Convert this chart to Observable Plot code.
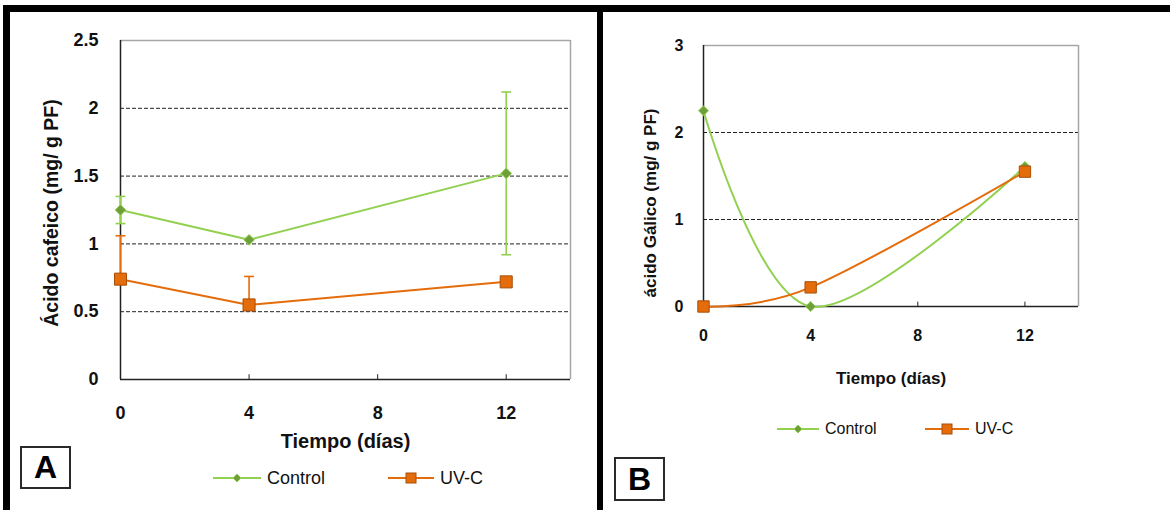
<!DOCTYPE html>
<html>
<head>
<meta charset="utf-8">
<script src="https://cdn.jsdelivr.net/npm/d3@7"></script>
<script src="https://cdn.jsdelivr.net/npm/@observablehq/plot@0.6"></script>
<style>
  html, body { margin: 0; padding: 0; background: #fff; }
  #page { position: relative; width: 1170px; height: 510px; overflow: hidden; background: #fff;
          font-family: "Liberation Sans", Arial, sans-serif; }
  .bar { position: absolute; background: #000; }
  .box { position: absolute; border: 2px solid #2a2a2a; box-sizing: border-box; display: flex;
         align-items: center; justify-content: center; font-weight: bold; font-size: 32px; color: #000; }
  .leg { position: absolute; display: flex; align-items: center; white-space: nowrap; color: #111; }
  .leg svg { display: block; }
</style>
</head>
<body>
<div id="page"></div>
<script>
// ---------- data ----------
const dias = [0, 4, 12];
const ticksDias = [0, 4, 8, 12];
const seriesNames = ["Control", "UV-C"];

// Panel A: Ácido cafeico (mg/ g PF)
const cafeicoControl = [1.25, 1.03, 1.52];
const cafeicoControlErr = [0.10, 0, 0.60];
const cafeicoUVC = [0.74, 0.55, 0.72];
const cafeicoUVCErr = [0.32, 0.21, 0];
const ticksCafeico = [0, 0.5, 1, 1.5, 2, 2.5];

// Panel B: ácido Gálico (mg/ g PF)
const galicoControl = [2.25, 0.0, 1.61];
const galicoUVC = [0.0, 0.22, 1.55];
const ticksGalico = [0, 1, 2, 3];

const panelLabels = ["A", "B"];
const xTitle = "Tiempo (días)";
const yTitleA = "Ácido cafeico (mg/ g PF)";
const yTitleB = "ácido Gálico (mg/ g PF)";

// ---------- styling ----------
const GREEN = "#92D050";
const GREEN_MK = "#6f9f3a";
const ORANGE = "#E46C0A";
const ORANGE_MK = "#A94F08";
const FONT = "'Liberation Sans', Arial, sans-serif";

const capSymbol = {
  draw(context, size) {
    const w = Math.sqrt(size) / 2;
    context.moveTo(-w, 0);
    context.lineTo(w, 0);
  }
};

function rows(vals, errs) {
  return dias.map((d, i) => ({dia: d, v: vals[i], e: errs ? errs[i] : 0}));
}

const page = document.getElementById("page");

// ---------- Panel A ----------
const cafC = rows(cafeicoControl, cafeicoControlErr);
const cafU = rows(cafeicoUVC, cafeicoUVCErr);
const cafCErr = cafC.filter(d => d.e > 0);
const cafUErr = cafU.filter(d => d.e > 0);

const chartA = Plot.plot({
  width: 597, height: 510,
  marginLeft: 120, marginRight: 27, marginTop: 40, marginBottom: 131,
  style: {fontFamily: FONT, fontWeight: "bold", fontSize: "18px", color: "#111", background: "transparent", overflow: "visible"},
  x: {domain: [0, 14]},
  y: {domain: [0, 2.5]},
  marks: [
    Plot.gridY(ticksCafeico.filter(t => t > 0 && t < 2.5), {stroke: "#222", strokeOpacity: 1, strokeDasharray: "4,2"}),
    Plot.ruleY([2.5], {stroke: "#a6a6a6", strokeWidth: 1.5}),
    Plot.ruleX([14], {stroke: "#a6a6a6", strokeWidth: 1.5}),
    Plot.ruleX([0], {stroke: "#222", strokeWidth: 1.5}),
    Plot.ruleY([0], {stroke: "#222", strokeWidth: 1.5}),
    Plot.ruleX(ticksDias.filter(t => t > 0), {y1: 0, y2: 0.035, stroke: "#222"}),
    Plot.axisY({ticks: ticksCafeico, tickSize: 0, tickPadding: 22, label: null, tickFormat: d => String(d), fontSize: 18}),
    Plot.axisX({ticks: ticksDias, tickSize: 0, tickPadding: 27, label: null, tickFormat: d => String(d), fontSize: 18}),
    Plot.text([yTitleA], {text: d => d, frameAnchor: "left", textAnchor: "middle", dx: -69, dy: 3, rotate: -90, fontSize: 19.5, fontWeight: "bold"}),
    Plot.text([xTitle], {text: d => d, frameAnchor: "bottom", dy: 68, fontSize: 20, fontWeight: "bold"}),
    // error bars
    Plot.ruleX(cafCErr, {x: "dia", y1: d => d.v - d.e, y2: d => d.v + d.e, stroke: GREEN, strokeWidth: 1.6}),
    Plot.dot(cafCErr, {x: "dia", y: d => d.v + d.e, symbol: capSymbol, r: 5.6, stroke: GREEN, strokeWidth: 1.6}),
    Plot.dot(cafCErr, {x: "dia", y: d => d.v - d.e, symbol: capSymbol, r: 5.6, stroke: GREEN, strokeWidth: 1.6}),
    Plot.ruleX(cafUErr, {x: "dia", y1: "v", y2: d => d.v + d.e, stroke: ORANGE, strokeWidth: 1.6}),
    Plot.dot(cafUErr, {x: "dia", y: d => d.v + d.e, symbol: capSymbol, r: 5.6, stroke: ORANGE, strokeWidth: 1.6}),
    // lines
    Plot.line(cafC, {x: "dia", y: "v", stroke: GREEN, strokeWidth: 2}),
    Plot.line(cafU, {x: "dia", y: "v", stroke: ORANGE, strokeWidth: 2}),
    // markers
    Plot.dot(cafC, {x: "dia", y: "v", symbol: "diamond2", r: 4.8, fill: GREEN_MK, stroke: GREEN, strokeWidth: 1}),
    Plot.dot(cafU, {x: "dia", y: "v", symbol: "square", r: 6.8, fill: ORANGE, stroke: ORANGE_MK, strokeWidth: 1})
  ]
});
chartA.style.position = "absolute";
chartA.style.left = "0px";
chartA.style.top = "0px";
page.appendChild(chartA);

// ---------- Panel B ----------
const galC = rows(galicoControl);
const galU = rows(galicoUVC);

const chartB = Plot.plot({
  width: 567, height: 510,
  marginLeft: 100, marginRight: 92, marginTop: 45, marginBottom: 204,
  style: {fontFamily: FONT, fontWeight: "bold", fontSize: "16px", color: "#111", background: "transparent", overflow: "visible"},
  x: {domain: [0, 14]},
  y: {domain: [0, 3]},
  marks: [
    Plot.gridY(ticksGalico.filter(t => t > 0 && t < 3), {stroke: "#222", strokeOpacity: 1, strokeDasharray: "4,2"}),
    Plot.ruleY([3], {stroke: "#a6a6a6", strokeWidth: 1.5}),
    Plot.ruleX([14], {stroke: "#a6a6a6", strokeWidth: 1.5}),
    Plot.ruleX([0], {stroke: "#222", strokeWidth: 1.5}),
    Plot.ruleY([0], {stroke: "#222", strokeWidth: 1.5}),
    Plot.ruleX(ticksDias.filter(t => t > 0), {y1: 0, y2: 0.05, stroke: "#222"}),
    Plot.axisY({ticks: ticksGalico, tickSize: 0, tickPadding: 20, label: null, tickFormat: d => String(d), fontSize: 16}),
    Plot.axisX({ticks: ticksDias, tickSize: 0, tickPadding: 23, label: null, tickFormat: d => String(d), fontSize: 16}),
    Plot.text([yTitleB], {text: d => d, frameAnchor: "left", textAnchor: "middle", dx: -53, dy: 27, rotate: -90, fontSize: 17, fontWeight: "bold"}),
    Plot.text([xTitle], {text: d => d, frameAnchor: "bottom", dy: 77, fontSize: 17, fontWeight: "bold"}),
    Plot.line(galC, {x: "dia", y: "v", stroke: GREEN, strokeWidth: 2, curve: "cardinal"}),
    Plot.line(galU, {x: "dia", y: "v", stroke: ORANGE, strokeWidth: 2, curve: "cardinal"}),
    Plot.dot(galC, {x: "dia", y: "v", symbol: "diamond2", r: 4.5, fill: GREEN_MK, stroke: GREEN, strokeWidth: 1}),
    Plot.dot(galU, {x: "dia", y: "v", symbol: "square", r: 6.4, fill: ORANGE, stroke: ORANGE_MK, strokeWidth: 1})
  ]
});
chartB.style.position = "absolute";
chartB.style.left = "603px";
chartB.style.top = "0px";
page.appendChild(chartB);

// ---------- frame borders ----------
function bar(l, t, w, h) {
  const d = document.createElement("div");
  d.className = "bar";
  Object.assign(d.style, {left: l + "px", top: t + "px", width: w + "px", height: h + "px"});
  page.appendChild(d);
}
bar(3, 5, 1167, 7);
bar(3, 5, 7, 505);
bar(597, 5, 6, 505);

// ---------- panel letter boxes ----------
function box(label, l, t, w, h) {
  const d = document.createElement("div");
  d.className = "box";
  d.textContent = label;
  Object.assign(d.style, {left: l + "px", top: t + "px", width: w + "px", height: h + "px"});
  page.appendChild(d);
}
box(panelLabels[0], 20, 446, 51, 43);
box(panelLabels[1], 614, 457, 51, 44);

// ---------- legends ----------
function legendItem(name, left, cy, w, fontSize, markerSize) {
  const isControl = name === seriesNames[0];
  const color = isControl ? GREEN : ORANGE;
  const item = document.createElement("div");
  item.className = "leg";
  const h = 18;
  Object.assign(item.style, {left: left + "px", top: (cy - h / 2) + "px", height: h + "px", fontSize: fontSize + "px"});
  const ns = "http://www.w3.org/2000/svg";
  const svg = document.createElementNS(ns, "svg");
  svg.setAttribute("width", w);
  svg.setAttribute("height", h);
  const line = document.createElementNS(ns, "line");
  line.setAttribute("x1", 0); line.setAttribute("x2", w);
  line.setAttribute("y1", h / 2); line.setAttribute("y2", h / 2);
  line.setAttribute("stroke", color); line.setAttribute("stroke-width", 2);
  svg.appendChild(line);
  const m = markerSize;
  if (isControl) {
    const p = document.createElementNS(ns, "path");
    p.setAttribute("d", `M${w/2},${h/2 - m/2}L${w/2 + m/2},${h/2}L${w/2},${h/2 + m/2}L${w/2 - m/2},${h/2}Z`);
    p.setAttribute("fill", GREEN_MK); p.setAttribute("stroke", GREEN);
    svg.appendChild(p);
  } else {
    const r = document.createElementNS(ns, "rect");
    r.setAttribute("x", w / 2 - m / 2); r.setAttribute("y", h / 2 - m / 2);
    r.setAttribute("width", m); r.setAttribute("height", m);
    r.setAttribute("fill", ORANGE); r.setAttribute("stroke", ORANGE_MK);
    svg.appendChild(r);
  }
  item.appendChild(svg);
  const span = document.createElement("span");
  span.textContent = name;
  span.style.marginLeft = "6px";
  item.appendChild(span);
  page.appendChild(item);
}
legendItem(seriesNames[0], 213, 478, 48, 18, 8);
legendItem(seriesNames[1], 388, 478, 46, 18, 10);
legendItem(seriesNames[0], 777, 429, 42, 16, 8);
legendItem(seriesNames[1], 925, 429, 44, 16, 10);
</script>
</body>
</html>
